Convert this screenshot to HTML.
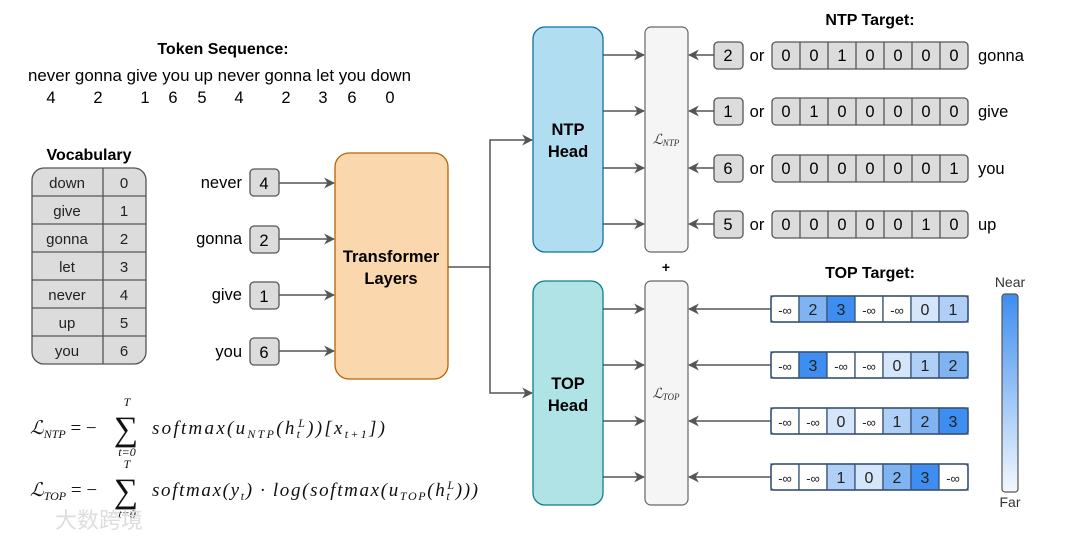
<!DOCTYPE html>
<html><head><meta charset="utf-8"><style>
html,body{margin:0;padding:0;background:#fff;}
svg{display:block;font-family:"Liberation Sans",Arial,sans-serif;}
.m{font-family:"Liberation Serif",serif;font-style:italic;}
</style></head><body>
<svg width="1080" height="540" viewBox="0 0 1080 540" xmlns="http://www.w3.org/2000/svg">
<defs>
<marker id="a" viewBox="0 0 10 10" refX="9" refY="5" markerWidth="11" markerHeight="11" orient="auto-start-reverse" markerUnits="userSpaceOnUse"><path d="M0,0 L10,5 L0,10 L3,5z" fill="#555"/></marker>
<linearGradient id="g" x1="0" y1="0" x2="0" y2="1"><stop offset="0" stop-color="#3d8ef0"/><stop offset="1" stop-color="#f4f8fe"/></linearGradient>
</defs>

<text x="223" y="54" font-size="16" font-weight="bold" text-anchor="middle">Token Sequence:</text>
<text x="28" y="81" font-size="16.5" textLength="383" lengthAdjust="spacingAndGlyphs">never gonna give you up never gonna let you down</text>
<g font-size="16.5" text-anchor="middle">
<text x="51" y="103">4</text><text x="98" y="103">2</text><text x="145" y="103">1</text><text x="173" y="103">6</text><text x="202" y="103">5</text><text x="239" y="103">4</text><text x="286" y="103">2</text><text x="323" y="103">3</text><text x="352" y="103">6</text><text x="390" y="103">0</text>
</g>

<text x="89" y="160" font-size="16" font-weight="bold" text-anchor="middle">Vocabulary</text>
<rect x="32" y="168" width="114" height="196" rx="12" fill="#dcdcdc" stroke="#555" stroke-width="1.3"/>
<g stroke="#555" stroke-width="1.3">
<line x1="103" y1="168" x2="103" y2="364"/>
<line x1="32" y1="196" x2="146" y2="196"/><line x1="32" y1="224" x2="146" y2="224"/><line x1="32" y1="252" x2="146" y2="252"/><line x1="32" y1="280" x2="146" y2="280"/><line x1="32" y1="308" x2="146" y2="308"/><line x1="32" y1="336" x2="146" y2="336"/>
</g>
<g font-size="15" text-anchor="middle" fill="#222">
<text x="67" y="188">down</text><text x="124" y="188">0</text>
<text x="67" y="216">give</text><text x="124" y="216">1</text>
<text x="67" y="244">gonna</text><text x="124" y="244">2</text>
<text x="67" y="272">let</text><text x="124" y="272">3</text>
<text x="67" y="300">never</text><text x="124" y="300">4</text>
<text x="67" y="328">up</text><text x="124" y="328">5</text>
<text x="67" y="356">you</text><text x="124" y="356">6</text>
</g>

<g font-size="16.5" text-anchor="end">
<text x="242" y="188">never</text><text x="242" y="244">gonna</text><text x="242" y="300">give</text><text x="242" y="357">you</text>
</g>
<g fill="#dcdcdc" stroke="#555" stroke-width="1.3">
<rect x="250" y="169" width="29" height="27" rx="4"/><rect x="250" y="226" width="29" height="27" rx="4"/><rect x="250" y="282" width="29" height="27" rx="4"/><rect x="250" y="338" width="29" height="27" rx="4"/>
</g>
<g font-size="16.5" text-anchor="middle">
<text x="264" y="189">4</text><text x="264" y="246">2</text><text x="264" y="302">1</text><text x="264" y="358">6</text>
</g>
<g stroke="#555" stroke-width="1.5" marker-end="url(#a)">
<line x1="279" y1="183" x2="334" y2="183"/><line x1="279" y1="239" x2="334" y2="239"/><line x1="279" y1="295" x2="334" y2="295"/><line x1="279" y1="351" x2="334" y2="351"/>
</g>

<rect x="335" y="153" width="113" height="226" rx="14" fill="#fad7ac" stroke="#b46504" stroke-width="1.3"/>
<text x="391" y="262" font-size="16.5" font-weight="bold" text-anchor="middle">Transformer</text>
<text x="391" y="284" font-size="16.5" font-weight="bold" text-anchor="middle">Layers</text>

<path d="M448,267 H490 V140 H532" fill="none" stroke="#555" stroke-width="1.5" marker-end="url(#a)"/>
<path d="M490,267 V393 H532" fill="none" stroke="#555" stroke-width="1.5" marker-end="url(#a)"/>

<rect x="533" y="27" width="70" height="225" rx="12" fill="#b1ddf0" stroke="#10739e" stroke-width="1.3"/>
<text x="568" y="135" font-size="16.5" font-weight="bold" text-anchor="middle">NTP</text>
<text x="568" y="157" font-size="16.5" font-weight="bold" text-anchor="middle">Head</text>
<rect x="533" y="281" width="70" height="224" rx="12" fill="#b0e3e6" stroke="#0e8088" stroke-width="1.3"/>
<text x="568" y="389" font-size="16.5" font-weight="bold" text-anchor="middle">TOP</text>
<text x="568" y="411" font-size="16.5" font-weight="bold" text-anchor="middle">Head</text>

<rect x="645" y="27" width="43" height="225" rx="6" fill="#f5f5f5" stroke="#666" stroke-width="1.2"/>
<rect x="645" y="281" width="43" height="224" rx="6" fill="#f5f5f5" stroke="#666" stroke-width="1.2"/>
<text x="666" y="144" font-size="14" text-anchor="middle" class="m" fill="#333">ℒ<tspan font-size="9" dy="2">NTP</tspan></text>
<text x="666" y="398" font-size="14" text-anchor="middle" class="m" fill="#333">ℒ<tspan font-size="9" dy="2">TOP</tspan></text>
<text x="666" y="272" font-size="14" font-weight="bold" text-anchor="middle">+</text>

<g stroke="#555" stroke-width="1.5" marker-end="url(#a)">
<line x1="603" y1="55" x2="644" y2="55"/><line x1="603" y1="111" x2="644" y2="111"/><line x1="603" y1="168" x2="644" y2="168"/><line x1="603" y1="224" x2="644" y2="224"/>
<line x1="603" y1="309" x2="644" y2="309"/><line x1="603" y1="365" x2="644" y2="365"/><line x1="603" y1="421" x2="644" y2="421"/><line x1="603" y1="477" x2="644" y2="477"/>
<line x1="714" y1="55" x2="689" y2="55"/><line x1="714" y1="111" x2="689" y2="111"/><line x1="714" y1="168" x2="689" y2="168"/><line x1="714" y1="224" x2="689" y2="224"/>
<line x1="771" y1="309" x2="689" y2="309"/><line x1="771" y1="365" x2="689" y2="365"/><line x1="771" y1="421" x2="689" y2="421"/><line x1="771" y1="477" x2="689" y2="477"/>
</g>

<text x="870" y="25" font-size="16" font-weight="bold" text-anchor="middle">NTP Target:</text>
<g fill="#dcdcdc" stroke="#555" stroke-width="1.3">
<rect x="714" y="42" width="29" height="27" rx="4"/><rect x="714" y="98" width="29" height="27" rx="4"/><rect x="714" y="155" width="29" height="27" rx="4"/><rect x="714" y="211" width="29" height="27" rx="4"/>
<rect x="772" y="42" width="196" height="27" rx="4"/><rect x="772" y="98" width="196" height="27" rx="4"/><rect x="772" y="155" width="196" height="27" rx="4"/><rect x="772" y="211" width="196" height="27" rx="4"/>
</g>
<g stroke="#555" stroke-width="1.3">
<path d="M800,42v27M828,42v27M856,42v27M884,42v27M912,42v27M940,42v27"/>
<path d="M800,98v27M828,98v27M856,98v27M884,98v27M912,98v27M940,98v27"/>
<path d="M800,155v27M828,155v27M856,155v27M884,155v27M912,155v27M940,155v27"/>
<path d="M800,211v27M828,211v27M856,211v27M884,211v27M912,211v27M940,211v27"/>
</g>
<g font-size="16.5" text-anchor="middle">
<text x="728" y="61">2</text><text x="728" y="117">1</text><text x="728" y="174">6</text><text x="728" y="230">5</text>
<text x="757" y="61">or</text><text x="757" y="117">or</text><text x="757" y="174">or</text><text x="757" y="230">or</text>
<text y="61"><tspan x="786">0</tspan><tspan x="814">0</tspan><tspan x="842">1</tspan><tspan x="870">0</tspan><tspan x="898">0</tspan><tspan x="926">0</tspan><tspan x="954">0</tspan></text>
<text y="117"><tspan x="786">0</tspan><tspan x="814">1</tspan><tspan x="842">0</tspan><tspan x="870">0</tspan><tspan x="898">0</tspan><tspan x="926">0</tspan><tspan x="954">0</tspan></text>
<text y="174"><tspan x="786">0</tspan><tspan x="814">0</tspan><tspan x="842">0</tspan><tspan x="870">0</tspan><tspan x="898">0</tspan><tspan x="926">0</tspan><tspan x="954">1</tspan></text>
<text y="230"><tspan x="786">0</tspan><tspan x="814">0</tspan><tspan x="842">0</tspan><tspan x="870">0</tspan><tspan x="898">0</tspan><tspan x="926">1</tspan><tspan x="954">0</tspan></text>
</g>
<g font-size="16.5">
<text x="978" y="61">gonna</text><text x="978" y="117">give</text><text x="978" y="174">you</text><text x="978" y="230">up</text>
</g>

<text x="870" y="278" font-size="16" font-weight="bold" text-anchor="middle">TOP Target:</text>
<g stroke="#3a5577" stroke-width="1.3">
<rect x="771" y="296" width="28" height="26" fill="#fff"/><rect x="799" y="296" width="28" height="26" fill="#7fb3f2"/><rect x="827" y="296" width="28" height="26" fill="#3d8ef0"/><rect x="855" y="296" width="28" height="26" fill="#fff"/><rect x="883" y="296" width="28" height="26" fill="#fff"/><rect x="911" y="296" width="28" height="26" fill="#d6e6fa"/><rect x="939" y="296" width="29" height="26" fill="#b0cff7"/>
<rect x="771" y="352" width="28" height="26" fill="#fff"/><rect x="799" y="352" width="28" height="26" fill="#3d8ef0"/><rect x="827" y="352" width="28" height="26" fill="#fff"/><rect x="855" y="352" width="28" height="26" fill="#fff"/><rect x="883" y="352" width="28" height="26" fill="#d6e6fa"/><rect x="911" y="352" width="28" height="26" fill="#b0cff7"/><rect x="939" y="352" width="29" height="26" fill="#7fb3f2"/>
<rect x="771" y="408" width="28" height="26" fill="#fff"/><rect x="799" y="408" width="28" height="26" fill="#fff"/><rect x="827" y="408" width="28" height="26" fill="#d6e6fa"/><rect x="855" y="408" width="28" height="26" fill="#fff"/><rect x="883" y="408" width="28" height="26" fill="#b0cff7"/><rect x="911" y="408" width="28" height="26" fill="#7fb3f2"/><rect x="939" y="408" width="29" height="26" fill="#3d8ef0"/>
<rect x="771" y="464" width="28" height="26" fill="#fff"/><rect x="799" y="464" width="28" height="26" fill="#fff"/><rect x="827" y="464" width="28" height="26" fill="#b0cff7"/><rect x="855" y="464" width="28" height="26" fill="#d6e6fa"/><rect x="883" y="464" width="28" height="26" fill="#7fb3f2"/><rect x="911" y="464" width="28" height="26" fill="#3d8ef0"/><rect x="939" y="464" width="29" height="26" fill="#fff"/>
</g>
<g fill="none" stroke="#3a5577" stroke-width="1.5">
<rect x="771" y="296" width="197" height="26" rx="3"/><rect x="771" y="352" width="197" height="26" rx="3"/><rect x="771" y="408" width="197" height="26" rx="3"/><rect x="771" y="464" width="197" height="26" rx="3"/>
</g>
<g font-size="16" text-anchor="middle" fill="#222">
<text y="315"><tspan x="785" font-size="13">-∞</tspan><tspan x="813">2</tspan><tspan x="841">3</tspan><tspan x="869" font-size="13">-∞</tspan><tspan x="897" font-size="13">-∞</tspan><tspan x="925">0</tspan><tspan x="953">1</tspan></text>
<text y="371"><tspan x="785" font-size="13">-∞</tspan><tspan x="813">3</tspan><tspan x="841" font-size="13">-∞</tspan><tspan x="869" font-size="13">-∞</tspan><tspan x="897">0</tspan><tspan x="925">1</tspan><tspan x="953">2</tspan></text>
<text y="427"><tspan x="785" font-size="13">-∞</tspan><tspan x="813" font-size="13">-∞</tspan><tspan x="841">0</tspan><tspan x="869" font-size="13">-∞</tspan><tspan x="897">1</tspan><tspan x="925">2</tspan><tspan x="953">3</tspan></text>
<text y="483"><tspan x="785" font-size="13">-∞</tspan><tspan x="813" font-size="13">-∞</tspan><tspan x="841">1</tspan><tspan x="869">0</tspan><tspan x="897">2</tspan><tspan x="925">3</tspan><tspan x="953" font-size="13">-∞</tspan></text>
</g>

<rect x="1002" y="294" width="16" height="198" rx="3" fill="url(#g)" stroke="#555" stroke-width="1.2"/>
<text x="1010" y="287" font-size="14" text-anchor="middle" fill="#333">Near</text>
<text x="1010" y="507" font-size="14" text-anchor="middle" fill="#333">Far</text>

<g class="m" font-size="19" fill="#111">
<text x="30" y="434">ℒ<tspan font-size="12" dy="4">NTP</tspan><tspan dy="-4" font-style="normal"> = −</tspan></text>
<text x="126" y="440" font-size="34" font-style="normal" text-anchor="middle">∑</text>
<text x="127" y="406" font-size="12" text-anchor="middle">T</text>
<text x="127" y="456" font-size="12" text-anchor="middle">t=0</text>
<text x="152" y="434" textLength="233" lengthAdjust="spacing">softmax(u<tspan font-size="12" dy="4">NTP</tspan><tspan dy="-4">(h</tspan><tspan font-size="12" dy="4">t</tspan><tspan font-size="12" dx="-4" dy="-11">L</tspan><tspan dy="7">))[x</tspan><tspan font-size="12" dy="4">t+1</tspan><tspan dy="-4">])</tspan></text>

<text x="30" y="496">ℒ<tspan font-size="12" dy="4">TOP</tspan><tspan dy="-4" font-style="normal"> = −</tspan></text>
<text x="126" y="502" font-size="34" font-style="normal" text-anchor="middle">∑</text>
<text x="127" y="468" font-size="12" text-anchor="middle">T</text>
<text x="127" y="518" font-size="12" text-anchor="middle">t=0</text>
<text x="152" y="496" textLength="326" lengthAdjust="spacing">softmax(y<tspan font-size="12" dy="4">t</tspan><tspan dy="-4">) · log(softmax(u</tspan><tspan font-size="12" dy="4">TOP</tspan><tspan dy="-4">(h</tspan><tspan font-size="12" dy="4">t</tspan><tspan font-size="12" dx="-4" dy="-11">L</tspan><tspan dy="7">)))</tspan></text>
</g>
<text x="55" y="528" font-size="22" fill="#ddd" font-family="'Liberation Sans','Noto Sans CJK SC',sans-serif">大数跨境</text>
</svg>
</body></html>
